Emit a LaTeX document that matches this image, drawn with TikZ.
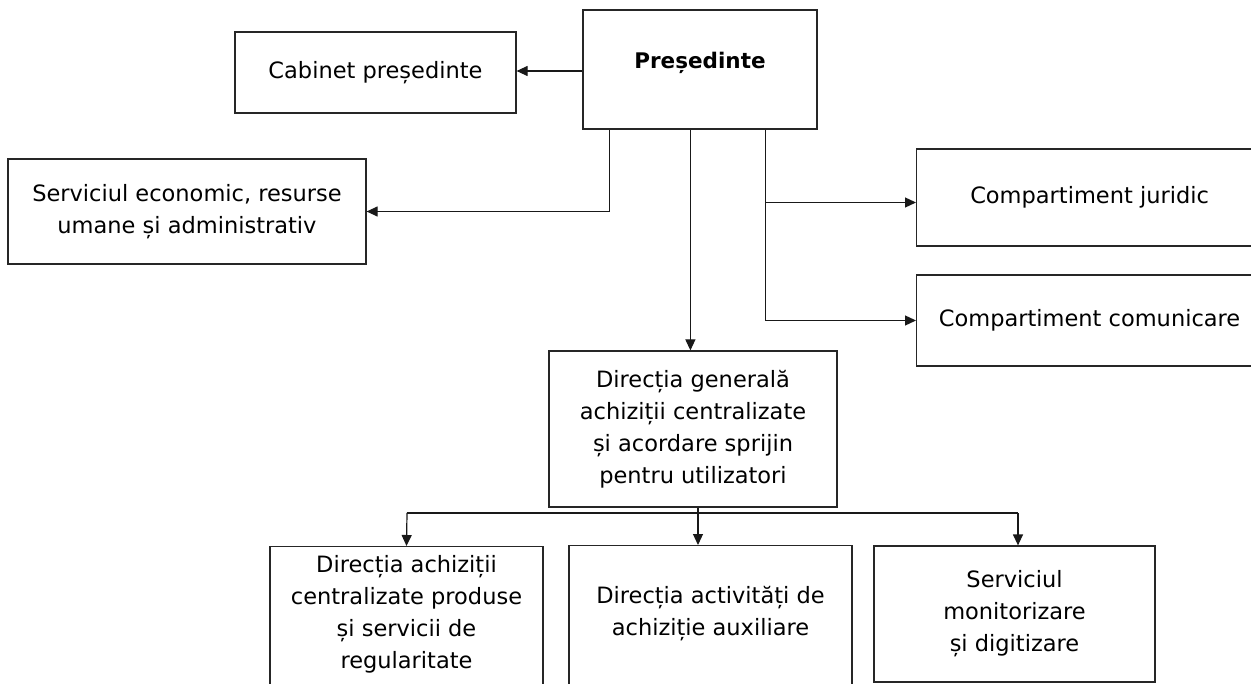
\documentclass[tikz,border=0pt]{standalone}
\usepackage{fontspec}
\setmainfont{DejaVu Sans}
\usetikzlibrary{arrows.meta,calc}
\tikzset{
  lbl/.style={font=\fontsize{22.5}{32}\selectfont},
  box/.style={draw=black!85, line width=1.2pt, inner sep=0pt, align=center, lbl},
  txt/.style={lbl, inner sep=0pt, align=center},
  conn/.style={line width=1.2pt, draw=black!90},
  arr/.style={conn, -{Triangle[length=11pt,width=10pt]}}
}
\begin{document}
\begin{tikzpicture}[x=1pt,y=-1pt]
\useasboundingbox (0,0) rectangle (1251,684);
\clip (0,0) rectangle (1251,684);
% boxes
\node[box, minimum width=234pt, minimum height=119pt] (pres) at (700,69.5) {};
\node[txt, font=\fontsize{21.5}{32}\selectfont\bfseries] (prestext) at (700,63) {Președinte};
\node[box, minimum width=281pt, minimum height=81pt] (cab) at (375.5,72.5) {Cabinet președinte};
\node[box, minimum width=358pt, minimum height=105pt] (serv) at (187,211.5) {Serviciul economic, resurse\\umane și administrativ};
\node[box, minimum width=346pt, minimum height=97pt, anchor=west] (jur) at (916,197.5) {Compartiment juridic};
\node[box, minimum width=346pt, minimum height=91pt, anchor=west] (com) at (916,320.5) {Compartiment comunicare};
\node[box, minimum width=288pt, minimum height=156pt] (dg) at (693,429) {Direcția generală\\achiziții centralizate\\și acordare sprijin\\pentru utilizatori};
\node[box, minimum width=273pt, minimum height=144pt, anchor=north] (b1) at (406.5,546) {};
\node[txt] (b1text) at (406.5,614) {Direcția achiziții\\centralizate produse\\și servicii de\\regularitate};
\node[box, minimum width=283pt, minimum height=145pt, anchor=north] (b2) at (710.5,545) {};
\node[txt] (b2text) at (710.5,614) {Direcția activități de\\achiziție auxiliare};
\node[box, minimum width=281pt, minimum height=136pt] (b3) at (1014.5,614) {Serviciul\\monitorizare\\și digitizare};
% connectors from Presedinte
\coordinate (pL) at ($(pres.south west)+(27,0)$);
\coordinate (pM) at ($(pres.south west)+(108,0)$);
\coordinate (pR) at ($(pres.south west)+(183,0)$);
\draw[arr] (pres.west |- 0,71) -- (cab.east |- 0,71);
\draw[arr] (pL) |- (serv.east);
\draw[arr] (pM) -- (pM |- dg.north);
\draw[arr] (pR) |- ([yshift=-5pt]jur.west);
\draw[arr] (pR) |- (com.west);
% bus below Directia generala
\coordinate (busL) at (407,513);
\coordinate (busM) at (698,513);
\coordinate (busR) at (1018,513);
\draw[conn] (dg.south -| busM) -- (busM);
\draw[conn] (busL) -- (busR);
\draw[arr] (busL) -- (b1.north);
\draw[arr] (busM) -- (busM |- b2.north);
\draw[arr] (busR) -- (busR |- b3.north);
\end{tikzpicture}
\end{document}
